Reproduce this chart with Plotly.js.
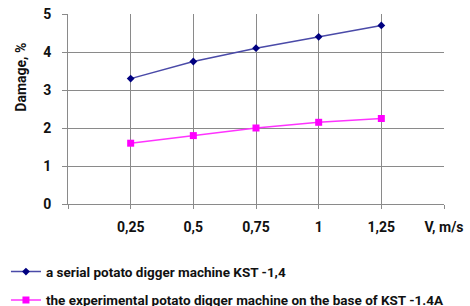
<!DOCTYPE html>
<html><head><meta charset="utf-8">
<script src="https://cdn.plot.ly/plotly-3.0.1.min.js"></script>
<style>html,body{margin:0;padding:0;background:#fff}#c{width:470px;height:306px}</style>
</head><body><div id="c"></div>
<script>
const xPos = [1, 2, 3, 4, 5];
const xTickVals = [0, 1, 2, 3, 4, 5, 6];
const xTickText = ['', '0,25', '0,5', '0,75', '1', '1,25', 'V, m/s'];
const serialValues = [3.3, 3.75, 4.1, 4.4, 4.7];
const experimentalValues = [1.6, 1.8, 2.0, 2.15, 2.25];
const serialName = 'a serial potato digger machine KST -1,4';
const experimentalName = 'the experimental potato digger machine on the base of KST -1.4A';

const fam = 'Roboto, "Open Sans", sans-serif';
const data = [
  {x: xPos, y: serialValues, name: serialName, type: 'scatter', mode: 'lines+markers',
   line: {color: '#4a4aa8', width: 1.5}, marker: {symbol: 'diamond', size: 6, color: '#000080'},
   legendgroup: 'a'},
  {x: xPos, y: experimentalValues, name: experimentalName, type: 'scatter', mode: 'lines+markers',
   line: {color: '#ff33ff', width: 1.5}, marker: {symbol: 'square', size: 7, color: '#ff00ff'},
   legendgroup: 'b'}
];
const tickF = {family: fam, size: 14, color: '#111', weight: 'bold'};
const legF = {family: fam, size: 13.5, color: '#111', weight: 'bold'};
const layout = {
  width: 470, height: 306,
  margin: {l: 68, r: 26, t: 14, b: 102, autoexpand: false},
  paper_bgcolor: '#fff', plot_bgcolor: '#fff',
  font: legF,
  showlegend: true,
  legend: {x: -0.165, xanchor: 'left', y: -0.275, yanchor: 'top', orientation: 'v',
    traceorder: 'grouped', tracegroupgap: 8, itemwidth: 30,
    font: legF, bgcolor: 'rgba(0,0,0,0)'},
  xaxis: {range: [0, 6], tickvals: xTickVals, ticktext: xTickText,
    showgrid: true, gridcolor: '#8a8a8a', gridwidth: 1,
    showline: true, linecolor: '#8a8a8a', ticks: 'outside', ticklen: 4, tickcolor: '#8a8a8a',
    ticklabelstandoff: 6, tickfont: tickF,
    zeroline: false, fixedrange: true},
  yaxis: {range: [0, 5], tickvals: [0, 1, 2, 3, 4, 5],
    showgrid: true, gridcolor: '#8a8a8a', gridwidth: 1,
    showline: true, linecolor: '#8a8a8a', ticks: 'outside', ticklen: 5, tickcolor: '#8a8a8a',
    ticklabelstandoff: 8, tickfont: tickF,
    zeroline: false, fixedrange: true},
  annotations: [{
    text: 'Damage, %', textangle: -90, xref: 'paper', yref: 'paper',
    x: -0.125, y: 0.665, xanchor: 'center', yanchor: 'middle', showarrow: false,
    font: {family: fam, size: 14, color: '#111', weight: 'bold'}
  }]
};
Plotly.newPlot('c', data, layout, {displayModeBar: false, staticPlot: true});
</script></body></html>
